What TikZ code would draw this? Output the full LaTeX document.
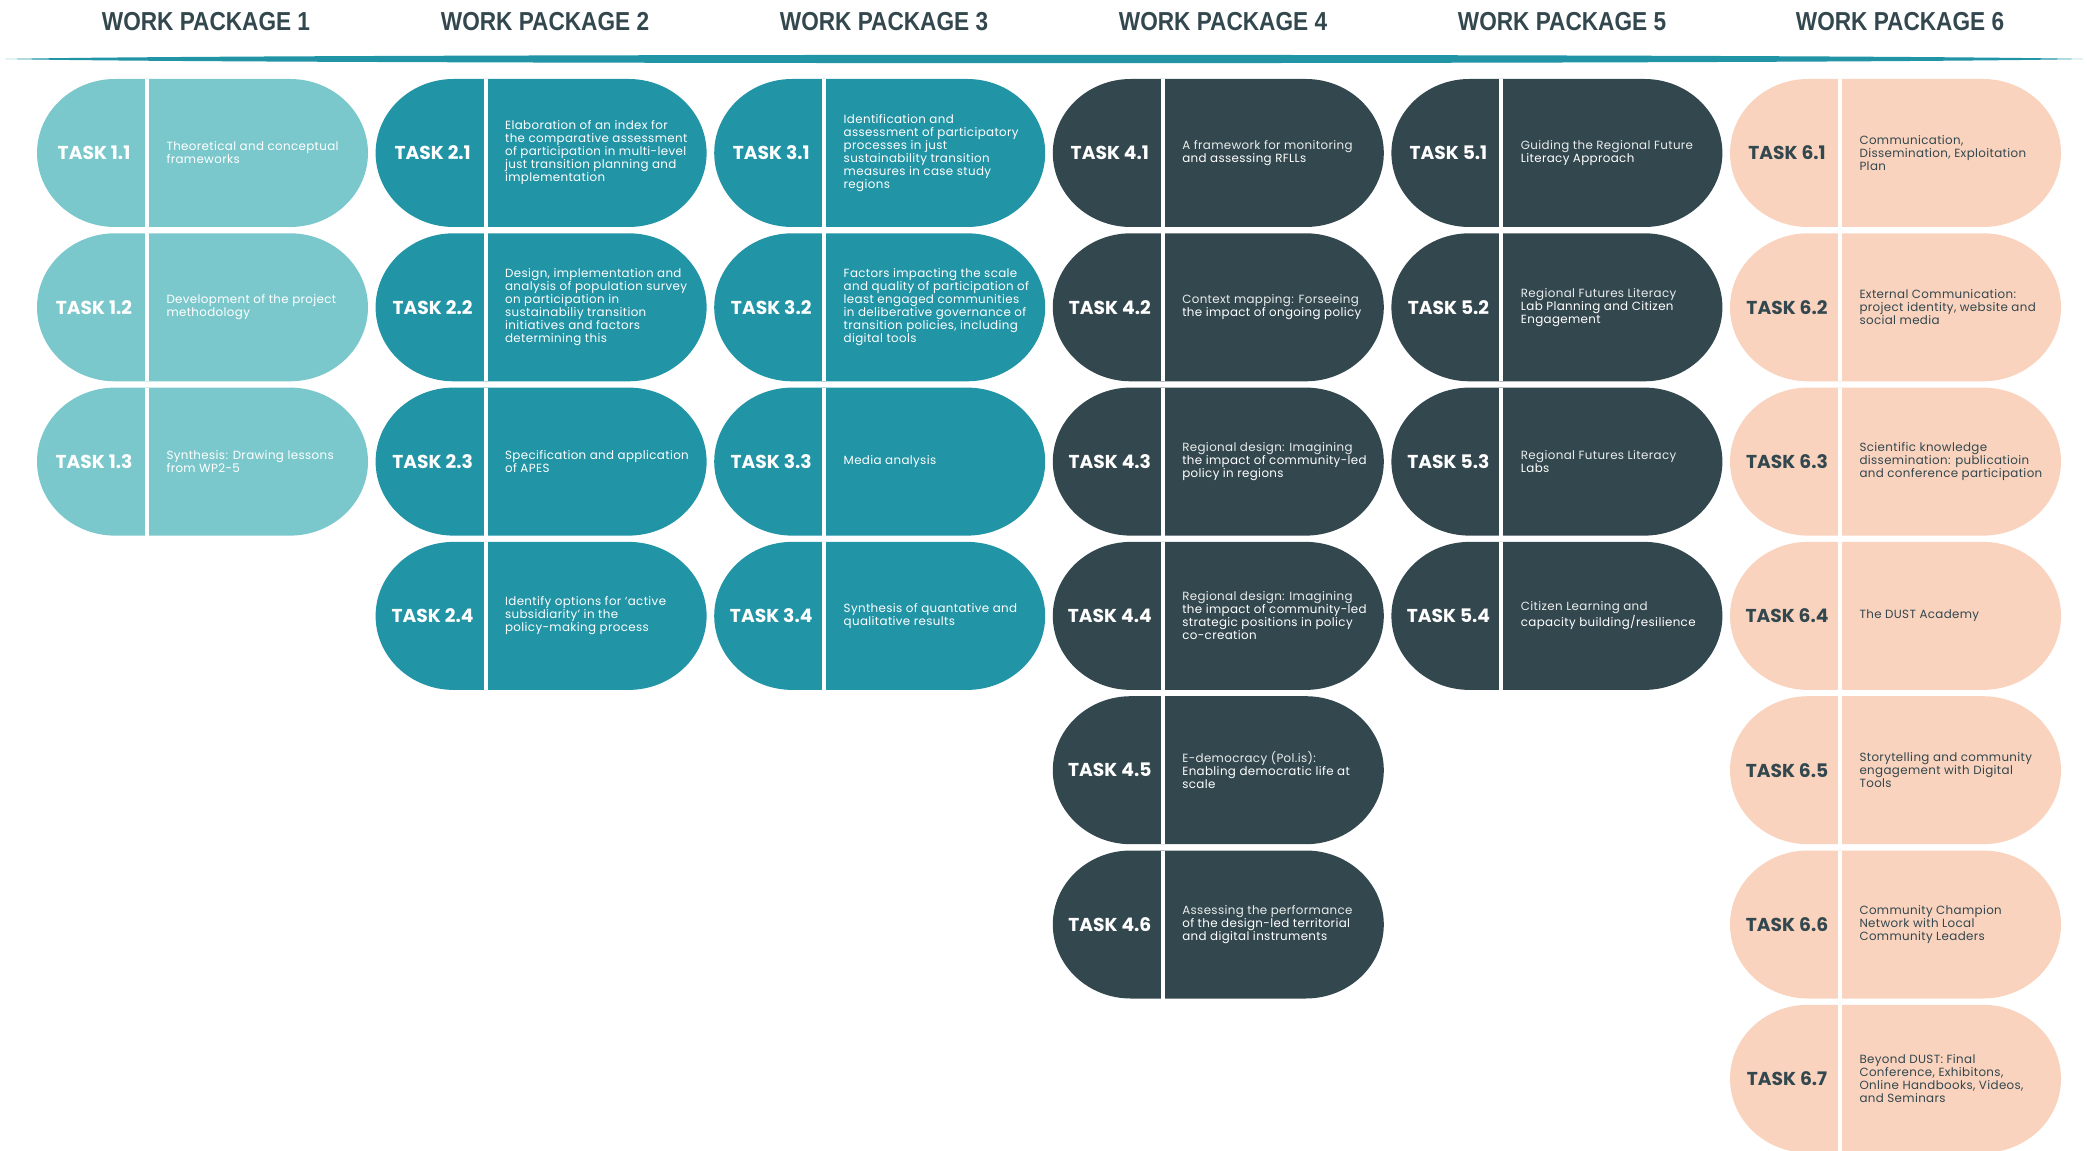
\documentclass[tikz,border=0pt]{standalone}
\usepackage{fontspec}
\setmainfont{Poppins}
\newfontfamily\descfont[LetterSpace=3]{Poppins}
\newfontfamily\wpfont[FakeStretch=0.87]{Liberation Sans}

\definecolor{wpmint}{HTML}{7BC8CC}
\definecolor{wpteal}{HTML}{2194A6}
\definecolor{wpslate}{HTML}{33474E}
\definecolor{wppeach}{HTML}{F9D3BE}
\definecolor{wplight}{HTML}{E9ECEC}

\tikzset{every picture/.style={line width=0.75pt}}
\tikzset{
  wptitle/.style={inner sep=0.75pt, text=wpslate, font=\wpfont\bfseries\fontsize{19.5}{22}\selectfont},
  tasklbl/.style={inner sep=0.75pt, font=\bfseries\fontsize{14}{16}\selectfont},
  taskdesc/.style={anchor=west, inner sep=0.75pt, align=left, font=\descfont\fontsize{8.9}{9.75}\selectfont},
  divider/.style={draw=white, line width=3pt}
}

% #1 name, #2 left, #3 top, #4 fill, #5 text colour, #6 label, #7 description
\newcommand{\wptask}[7]{%
  \fill[#4] (#2+78,#3) -- (#2+253,#3) arc[start angle=-90, end angle=90, x radius=78, y radius=74] -- (#2+78,#3+148) arc[start angle=90, end angle=270, x radius=78, y radius=74] -- cycle;
  \draw[divider] (#2+110,#3) -- (#2+110,#3+148);
  \node[tasklbl, text=#5] (#1) at (#2+57,#3+74) {#6};
  \node[taskdesc, text=#5] (#1d) at (#2+128,#3+74) {#7};
}

\begin{document}
\begin{tikzpicture}[x=0.75pt,y=0.75pt,yscale=-1,xscale=1]
\useasboundingbox (0,0) rectangle (2087,1151);

% Titles
\node[wptitle] (wp1) at (206,21.5) {WORK PACKAGE 1};
\node[wptitle] (wp2) at (545,21.5) {WORK PACKAGE 2};
\node[wptitle] (wp3) at (884,21.5) {WORK PACKAGE 3};
\node[wptitle] (wp4) at (1223,21.5) {WORK PACKAGE 4};
\node[wptitle] (wp5) at (1562,21.5) {WORK PACKAGE 5};
\node[wptitle] (wp6) at (1900,21.5) {WORK PACKAGE 6};

% Tapered rule
\fill[wpteal] (5,59) .. controls (250,53.5) and (1850,53.5) .. (2083,59) .. controls (1850,64.5) and (250,64.5) .. (5,59) -- cycle;

% Work package 1
\wptask{t11}{37}{79}{wpmint}{white}{TASK 1.1}{Theoretical and conceptual\\frameworks}
\wptask{t12}{37}{233.3}{wpmint}{white}{TASK 1.2}{Development of the project\\methodology}
\wptask{t13}{37}{387.6}{wpmint}{white}{TASK 1.3}{Synthesis: Drawing lessons\\from WP2-5}

% Work package 2
\wptask{t21}{375.6}{79}{wpteal}{white}{TASK 2.1}{Elaboration of an index for\\the comparative assessment\\of participation in multi-level\\just transition planning and\\implementation}
\wptask{t22}{375.6}{233.3}{wpteal}{white}{TASK 2.2}{Design, implementation and\\analysis of population survey\\on participation in\\sustainabiliy transition\\initiatives and factors\\determining this}
\wptask{t23}{375.6}{387.6}{wpteal}{white}{TASK 2.3}{Specification and application\\of APES}
\wptask{t24}{375.6}{541.9}{wpteal}{white}{TASK 2.4}{Identify options for ‘active\\subsidiarity’ in the\\policy-making process}

% Work package 3
\wptask{t31}{714.2}{79}{wpteal}{white}{TASK 3.1}{Identification and\\assessment of participatory\\processes in just\\sustainability transition\\measures in case study\\regions}
\wptask{t32}{714.2}{233.3}{wpteal}{white}{TASK 3.2}{Factors impacting the scale\\and quality of participation of\\least engaged communities\\in deliberative governance of\\transition policies, including\\digital tools}
\wptask{t33}{714.2}{387.6}{wpteal}{white}{TASK 3.3}{Media analysis}
\wptask{t34}{714.2}{541.9}{wpteal}{white}{TASK 3.4}{Synthesis of quantative and\\qualitative results}

% Work package 4
\wptask{t41}{1052.8}{79}{wpslate}{white}{TASK 4.1}{\color{wplight}A framework for monitoring\\and assessing RFLLs}
\wptask{t42}{1052.8}{233.3}{wpslate}{white}{TASK 4.2}{\color{wplight}Context mapping: Forseeing\\the impact of ongoing policy}
\wptask{t43}{1052.8}{387.6}{wpslate}{white}{TASK 4.3}{\color{wplight}Regional design: Imagining\\the impact of community-led\\policy in regions}
\wptask{t44}{1052.8}{541.9}{wpslate}{white}{TASK 4.4}{\color{wplight}Regional design: Imagining\\the impact of community-led\\strategic positions in policy\\co-creation}
\wptask{t45}{1052.8}{696.2}{wpslate}{white}{TASK 4.5}{\color{wplight}E-democracy (Pol.is):\\Enabling democratic life at\\scale}
\wptask{t46}{1052.8}{850.5}{wpslate}{white}{TASK 4.6}{\color{wplight}Assessing the performance\\of the design-led territorial\\and digital instruments}

% Work package 5
\wptask{t51}{1391.4}{79}{wpslate}{white}{TASK 5.1}{\color{wplight}Guiding the Regional Future\\Literacy Approach}
\wptask{t52}{1391.4}{233.3}{wpslate}{white}{TASK 5.2}{\color{wplight}Regional Futures Literacy\\Lab Planning and Citizen\\Engagement}
\wptask{t53}{1391.4}{387.6}{wpslate}{white}{TASK 5.3}{\color{wplight}Regional Futures Literacy\\Labs}
\wptask{t54}{1391.4}{541.9}{wpslate}{white}{TASK 5.4}{\color{wplight}Citizen Learning and\\capacity building/resilience}

% Work package 6
\wptask{t61}{1730}{79}{wppeach}{wpslate}{TASK 6.1}{Communication,\\Dissemination, Exploitation\\Plan}
\wptask{t62}{1730}{233.3}{wppeach}{wpslate}{TASK 6.2}{External Communication:\\project identity, website and\\social media}
\wptask{t63}{1730}{387.6}{wppeach}{wpslate}{TASK 6.3}{Scientific knowledge\\dissemination: publicatioin\\and conference participation}
\wptask{t64}{1730}{541.9}{wppeach}{wpslate}{TASK 6.4}{The DUST Academy}
\wptask{t65}{1730}{696.2}{wppeach}{wpslate}{TASK 6.5}{Storytelling and community\\engagement with Digital\\Tools}
\wptask{t66}{1730}{850.5}{wppeach}{wpslate}{TASK 6.6}{Community Champion\\Network with Local\\Community Leaders}
\wptask{t67}{1730}{1004.8}{wppeach}{wpslate}{TASK 6.7}{Beyond DUST: Final\\Conference, Exhibitons,\\Online Handbooks, Videos,\\and Seminars}

\end{tikzpicture}
\end{document}
